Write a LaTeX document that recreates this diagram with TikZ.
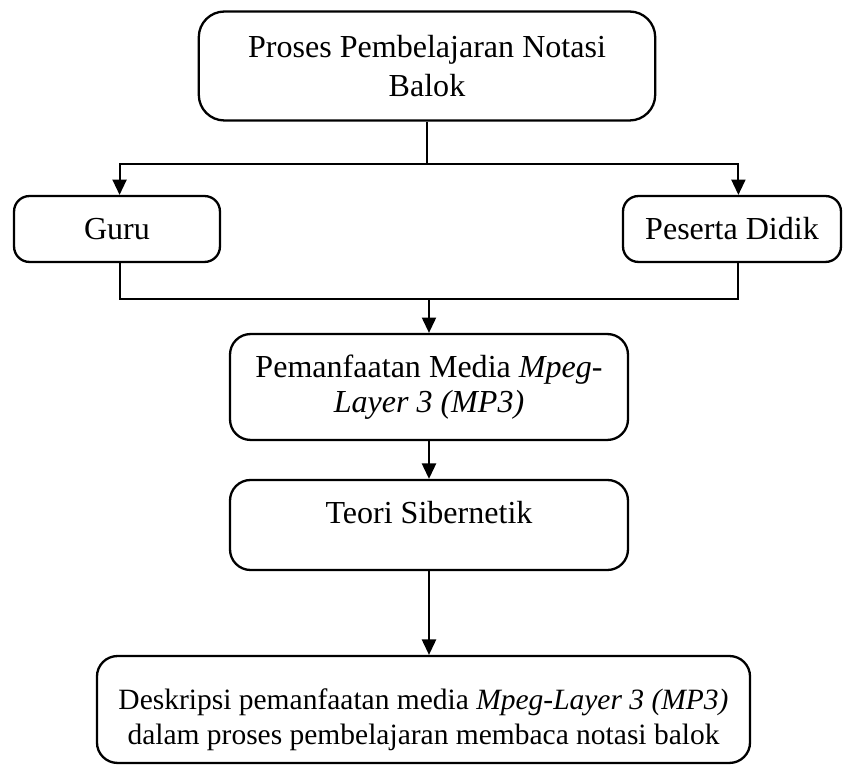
\documentclass[tikz,border=0pt]{standalone}
\usepackage{fontspec}
\setmainfont{Liberation Serif}
\usetikzlibrary{arrows.meta}

\tikzset{
  box/.style={draw, line width=0.9pt, rounded corners=8pt, align=center,
    inner sep=0pt, font=\fontsize{12.5}{13.5}\selectfont},
  link/.style={line width=0.75pt},
  arr/.style={link, -{Triangle[length=6pt,width=5.5pt]}},
}

\begin{document}
\begin{tikzpicture}[x=0.39pt, y=-0.39pt]
            \useasboundingbox (0,0) rectangle (853,773);

            \node[box, rounded corners=10pt, minimum width=178pt, minimum height=42.5pt] (proses) at (427,66) {Proses Pembelajaran Notasi\\[1.5pt]Balok};
            \node[box, rounded corners=6pt, minimum width=80.3pt, minimum height=25.7pt] (guru) at (117,229) {Guru};
            \node[box, rounded corners=6pt, minimum width=85pt, minimum height=25.7pt] (siswa) at (732,229) {Peserta Didik};
            \node[box, minimum width=155.2pt, minimum height=41.3pt] (media) at (429,387) {Pemanfaatan Media \textit{Mpeg}-\\\textit{Layer 3 (MP3)}};
            \node[box, minimum width=155.2pt, minimum height=35.1pt, text depth=10pt] (teori) at (429,525) {Teori Sibernetik};
            \node[box, minimum width=254.7pt, minimum height=41.7pt] (hasil) at (423.5,709.5) {};
            \node[align=center, inner sep=0pt, font=\fontsize{11.5}{13.5}\selectfont] (hasilteks) at ([yshift=-4pt]hasil.center) {Deskripsi pemanfaatan media \textit{Mpeg-Layer 3 (MP3)}\\dalam proses pembelajaran membaca notasi balok};

            \coordinate (guruin) at ([xshift=1pt]guru.north);
            \coordinate (guruout) at ([xshift=1pt]guru.south);
            \coordinate (siswain) at ([xshift=2.5pt]siswa.north);
            \coordinate (siswaout) at ([xshift=2.5pt]siswa.south);

            \draw[link] (proses.south) -- ++(0,42) coordinate (fork); % cabang atas
            \draw[arr] (fork) -| (guruin);
            \draw[arr] (fork) -| (siswain);

            \draw[link] (guruout) -- ++(0,36) coordinate (join) -- (join -| siswaout) -- (siswaout); % gabungan
            \draw[arr] (join -| media.north) -- (media.north);
            \draw[arr] (media.south) -- (teori.north);
            \draw[arr] (teori.south) -- (teori.south |- hasil.north);
        \end{tikzpicture}
\end{document}
